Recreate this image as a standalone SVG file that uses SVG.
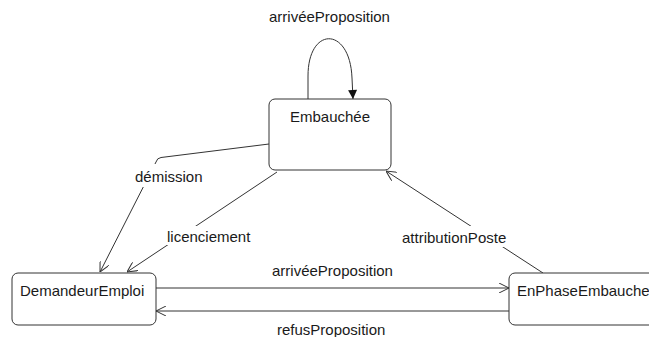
<svg xmlns="http://www.w3.org/2000/svg" width="649" height="337" viewBox="0 0 649 337">
  <style>
    .state { fill: #ffffff; stroke: #333333; stroke-width: 1; }
    .name { font-family: "Liberation Sans", Arial, sans-serif; font-size: 15px; fill: #1a1a1a; }
    .edge { fill: none; stroke: #333333; stroke-width: 1; }
    .lbl { font-family: "Liberation Sans", Arial, sans-serif; font-size: 15px; fill: #1a1a1a; }
    .lblbg { fill: #ffffff; stroke: none; }
  </style>
  <defs>
    <marker id="open" viewBox="0 0 10 10" refX="10" refY="5" markerWidth="10" markerHeight="10" markerUnits="userSpaceOnUse" orient="auto">
      <path d="M0,0 L10,5 L0,10" fill="none" stroke="#333333" stroke-width="1"/>
    </marker>
    <marker id="solid" viewBox="0 0 10 10" refX="10" refY="5" markerWidth="14" markerHeight="9" markerUnits="userSpaceOnUse" orient="auto">
      <path d="M0,0 L10,5 L0,10 Z" fill="#111111" stroke="none"/>
    </marker>
  </defs>

  <!-- transitions -->
  <g id="connectors">
    <!-- self transition on Embauchée -->
    <path id="e-self" class="edge" d="M308,99 V76 C308,26 350,26 352,78 L353,99" marker-end="url(#solid)"/>
    <!-- démission -->
    <path id="e-demission" class="edge" d="M269,144 L161,157.5 Q157,158 156,162 L100,272" marker-end="url(#open)"/>
    <!-- licenciement -->
    <path id="e-licenciement" class="edge" d="M277,172 L127,272" marker-end="url(#open)"/>
    <!-- attributionPoste -->
    <path id="e-attribution" class="edge" d="M543,273 L386,171" marker-end="url(#open)"/>
    <!-- arrivéeProposition -->
    <path id="e-arrivee" class="edge" d="M156,288 H509" marker-end="url(#open)"/>
    <!-- refusProposition -->
    <path id="e-refus" class="edge" d="M509,311 H156" marker-end="url(#open)"/>

    <!-- transition labels -->
    <text class="lbl" x="269" y="22">arrivéeProposition</text>
    <rect class="lblbg" x="133" y="164" width="76" height="23"/>
    <text class="lbl" x="135" y="181.5">démission</text>
    <rect class="lblbg" x="165" y="226" width="92" height="19"/>
    <text class="lbl" x="167" y="241.5">licenciement</text>
    <rect class="lblbg" x="400" y="226" width="108" height="21"/>
    <text class="lbl" x="402" y="243">attributionPoste</text>
    <text class="lbl" x="272" y="276">arrivéeProposition</text>
    <text class="lbl" x="277" y="335">refusProposition</text>
  </g>

  <!-- states -->
  <g id="Embauchee">
    <rect class="state" x="269" y="99" width="122" height="71" rx="6"/>
    <text class="name" x="330" y="121.5" text-anchor="middle">Embauchée</text>
  </g>
  <g id="DemandeurEmploi">
    <rect class="state" x="12" y="273" width="144" height="52" rx="6"/>
    <text class="name" x="20" y="296">DemandeurEmploi</text>
  </g>
  <g id="EnPhaseEmbauche">
    <rect class="state" x="509" y="273" width="150" height="52" rx="6"/>
    <text class="name" x="517" y="296">EnPhaseEmbauche</text>
  </g>
</svg>
